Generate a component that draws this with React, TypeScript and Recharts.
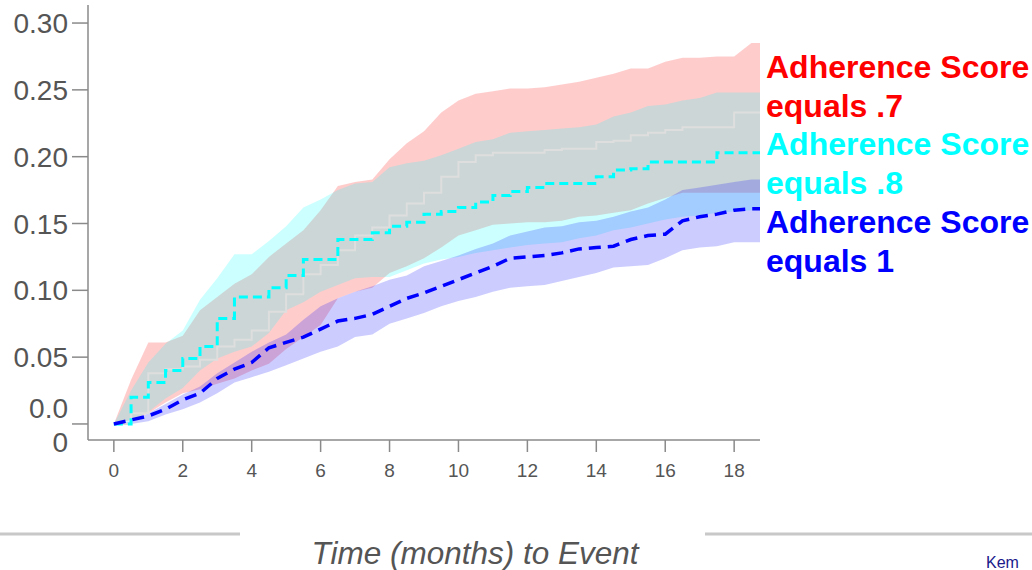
import React from "react";
import {Area, ComposedChart, Line, XAxis, YAxis} from "recharts";

// follow-up time in months
const months = [
	0, 0.5, 1, 1.5, 2, 2.5, 3, 3.5, 4, 4.5, 5, 5.5, 6, 6.5, 7, 7.5, 8, 8.5, 9, 9.5,
	10, 10.5, 11, 11.5, 12, 12.5, 13, 13.5, 14, 14.5, 15, 15.5, 16, 16.5, 17, 17.5, 18, 18.5, 18.75
];

// adherence score .7
const redLine = [
	0, .008, .038, .041, .043, .048, .058, .063, .070, .084, .097, .112, .119, .130, .141, .147, .156, .165, .173, .185,
	.196, .201, .203, .203, .203, .205, .206, .206, .211, .212, .216, .218, .220, .222, .222, .222, .233, .233, .233
];
const redLow = [
	0, .003, .008, .016, .023, .026, .030, .034, .040, .045, .056, .065, .074, .094, .099, .102, .113, .118, .124, .132,
	.141, .145, .149, .150, .151, .151, .152, .155, .156, .158, .160, .165, .169, .173, .173, .173, .173, .173, .173
];
const redHigh = [
	0, .033, .061, .061, .066, .085, .095, .105, .112, .125, .135, .145, .160, .178, .181, .183, .198, .210, .219, .233,
	.242, .247, .249, .251, .251, .252, .254, .256, .259, .262, .266, .266, .271, .274, .274, .275, .275, .285, .285
];

// adherence score .8
const cyanLine = [
	0, .020, .031, .040, .049, .058, .079, .095, .095, .102, .111, .123, .123, .138, .138, .143, .148, .151, .157, .159,
	.162, .166, .171, .174, .177, .180, .180, .180, .185, .190, .191, .196, .196, .196, .196, .203, .203, .203, .203
];
const cyanLow = [
	0, .002, .009, .019, .027, .040, .049, .054, .058, .068, .085, .091, .099, .104, .109, .110, .110, .115, .120, .123,
	.125, .128, .130, .132, .134, .135, .136, .139, .141, .145, .147, .150, .153, .155, .156, .158, .159, .160, .160
];
const cyanHigh = [
	0, .025, .046, .060, .070, .093, .109, .127, .127, .137, .148, .162, .168, .175, .180, .181, .192, .195, .197, .201,
	.206, .211, .213, .218, .219, .220, .221, .222, .224, .230, .233, .238, .239, .242, .244, .248, .248, .248, .248
];

// adherence score 1
const blueLine = [
	0, .003, .006, .011, .018, .023, .034, .041, .046, .057, .061, .065, .071, .077, .079, .082, .088, .094, .098, .103,
	.108, .113, .118, .124, .125, .126, .128, .131, .132, .133, .138, .141, .142, .152, .155, .157, .160, .161, .161
];
const blueLow = [
	0, 0, .002, .007, .011, .016, .023, .031, .035, .039, .044, .049, .054, .058, .065, .067, .075, .079, .083, .088,
	.092, .095, .099, .102, .103, .104, .107, .110, .113, .117, .118, .119, .124, .130, .132, .133, .136, .136, .136
];
const blueHigh = [
	0, .002, .008, .015, .022, .028, .038, .046, .054, .061, .067, .078, .088, .094, .099, .103, .108, .111, .118, .122,
	.126, .131, .135, .141, .144, .147, .148, .151, .152, .155, .159, .162, .168, .175, .177, .179, .181, .183, .183
];

const xTicks = [0, 2, 4, 6, 8, 10, 12, 14, 16, 18];
const yTicks = [0, 0.05, 0.10, 0.15, 0.20, 0.25, 0.30];

const legendLines = [
	{text: "Adherence Score", color: "#ff0000"},
	{text: "equals .7", color: "#ff0000"},
	{text: "Adherence Score", color: "#00ffff"},
	{text: "equals .8", color: "#00ffff"},
	{text: "Adherence Score", color: "#0000ff"},
	{text: "equals 1", color: "#0000ff"}
];

const FONT = "'Liberation Sans', Arial, Helvetica, sans-serif";
const AXIS = "#8a8a8a";
const LABEL = "#555555";

const data = months.map((m, i) => ({
	month: m,
	red: redLine[i],
	redBand: [redLow[i], redHigh[i]],
	cyan: cyanLine[i],
	cyanBand: [cyanLow[i], cyanHigh[i]],
	blue: blueLine[i],
	blueBand: [blueLow[i], blueHigh[i]]
}));

const YTick = (props: any) => {
	const {x, y, payload} = props;
	const v = payload.value;
	if (v === 0) {
		// the zero label wraps onto two lines
		return (
			<text textAnchor="end" fontSize={28} fill={LABEL} fontFamily={FONT}>
				<tspan x={x - 2} y={y - 6}>0.0</tspan>
				<tspan x={x - 2} y={y + 28}>0</tspan>
			</text>
		);
	}
	return (
		<text x={x - 2} y={y + 10} textAnchor="end" fontSize={28} fill={LABEL} fontFamily={FONT}>
			{v.toFixed(2)}
		</text>
	);
};

const XTick = (props: any) => {
	const {x, y, payload} = props;
	return (
		<text x={x} y={y + 23} textAnchor="middle" fontSize={19} fill={LABEL} fontFamily={FONT}>
			{payload.value}
		</text>
	);
};

const App = () => {
	return (
		<div style={{position: "relative", width: 1032, height: 570, overflow: "hidden"}}>
			<style>{"body{margin:0}"}</style>
			<ComposedChart width={1032} height={570} data={data}
						   margin={{top: 5, right: 272, bottom: 90, left: 0}}>
				<XAxis dataKey="month" type="number" domain={[-0.75, 18.75]} ticks={xTicks}
					   allowDataOverflow height={40} tickSize={12}
					   axisLine={{stroke: AXIS, strokeWidth: 1.5}} tickLine={{stroke: AXIS, strokeWidth: 1.5}}
					   tick={<XTick/>}/>
				<YAxis type="number" domain={[-0.012, 0.3135]} ticks={yTicks} allowDataOverflow
					   width={88} tickSize={16}
					   axisLine={{stroke: AXIS, strokeWidth: 1.5}} tickLine={{stroke: AXIS, strokeWidth: 1.5}}
					   tick={<YTick/>}/>
				<Area type="linear" dataKey="redBand" stroke="none" fill="#ff0000" fillOpacity={0.2}
					  isAnimationActive={false}/>
				<Area type="linear" dataKey="cyanBand" stroke="none" fill="#00ffff" fillOpacity={0.2}
					  isAnimationActive={false}/>
				<Area type="linear" dataKey="blueBand" stroke="none" fill="#0000ff" fillOpacity={0.2}
					  isAnimationActive={false}/>
				<Line type="stepAfter" dataKey="red" stroke="#dedede" strokeWidth={2} dot={false}
					  isAnimationActive={false}/>
				<Line type="stepAfter" dataKey="cyan" stroke="#00ffff" strokeWidth={3} strokeDasharray="9 5"
					  dot={false} isAnimationActive={false}/>
				<Line type="linear" dataKey="blue" stroke="#0000ff" strokeWidth={3.5} strokeDasharray="12 7"
					  dot={false} isAnimationActive={false}/>
			</ComposedChart>
			<svg width={1032} height={570} style={{position: "absolute", left: 0, top: 0, pointerEvents: "none"}}>
				{legendLines.map((l, i) => (
					<text key={i} x={766} y={78 + i * 38.7} fontSize={32} fontWeight="bold" fill={l.color}
						  fontFamily={FONT}>
						{l.text}
					</text>
				))}
				<line x1={0} y1={534} x2={240} y2={534} stroke="#c8c8c8" strokeWidth={3}/>
				<line x1={705} y1={534} x2={1032} y2={534} stroke="#c8c8c8" strokeWidth={3}/>
				<text x={475} y={564} textAnchor="middle" fontSize={31.5} fontStyle="italic" fill={LABEL}
					  fontFamily={FONT}>
					Time (months) to Event
				</text>
				<text x={986} y={568} fontSize={16} fill="#1a1a8c" fontFamily={FONT}>Kem</text>
			</svg>
		</div>
	);
};

export default App;
